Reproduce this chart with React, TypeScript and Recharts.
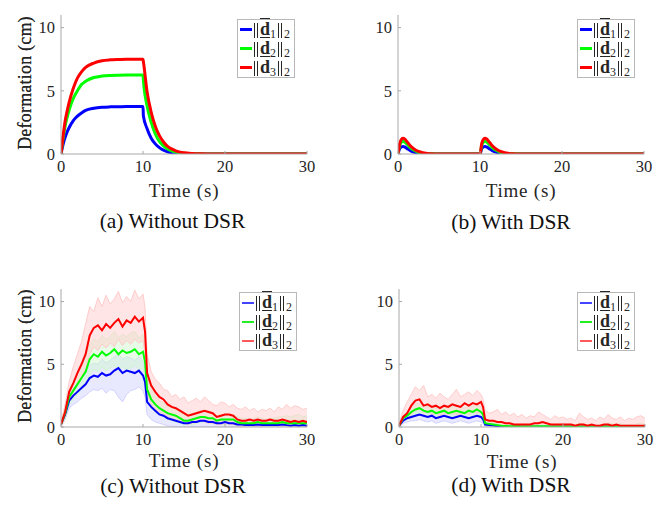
import React from "react";
import { ComposedChart, Line, Area, XAxis, YAxis, Legend } from "recharts";

// ---- (a) without DSR, simulated ----
const TIME_A = [0, 0.25, 0.5, 0.75, 1, 1.5, 2, 2.5, 3, 4, 5, 6, 7, 8, 9, 10, 10.05, 10.5, 11, 11.5, 12, 12.5, 13, 13.5, 14, 15, 16, 17, 18, 20, 25, 30];
const A_D1 = [0, 0.75, 1.3, 1.75, 2.1, 2.65, 3.0, 3.25, 3.45, 3.62, 3.7, 3.73, 3.74, 3.75, 3.75, 3.75, 3.0, 2.0, 1.25, 0.8, 0.5, 0.3, 0.18, 0.1, 0.06, 0.02, 0.01, 0, 0, 0, 0, 0];
const A_D2 = [0, 1.2, 2.2, 2.9, 3.5, 4.4, 5.0, 5.5, 5.75, 6.05, 6.17, 6.22, 6.24, 6.25, 6.25, 6.25, 5.8, 3.8, 2.5, 1.6, 1.0, 0.65, 0.4, 0.25, 0.15, 0.06, 0.02, 0.01, 0, 0, 0, 0];
const A_D3 = [0, 1.4, 2.6, 3.4, 4.1, 5.2, 6.0, 6.5, 6.85, 7.2, 7.38, 7.45, 7.48, 7.5, 7.5, 7.5, 7.3, 4.9, 3.3, 2.2, 1.45, 0.95, 0.6, 0.4, 0.25, 0.1, 0.04, 0.015, 0.005, 0, 0, 0];

// ---- (b) with DSR, simulated ----
const TIME_B = [0, 0.2, 0.4, 0.6, 0.8, 1, 1.25, 1.5, 2, 2.5, 3, 3.5, 4, 5, 10, 10.2, 10.4, 10.6, 10.8, 11, 11.25, 11.5, 12, 12.5, 13, 13.5, 14, 15, 20, 30];
const B_D1 = [0, 0.4, 0.56, 0.6, 0.57, 0.48, 0.37, 0.27, 0.13, 0.06, 0.03, 0.01, 0, 0, 0, 0.4, 0.56, 0.6, 0.57, 0.48, 0.37, 0.27, 0.13, 0.06, 0.03, 0.01, 0, 0, 0, 0];
const B_D2 = [0, 0.65, 0.92, 1.0, 0.95, 0.83, 0.67, 0.5, 0.28, 0.14, 0.07, 0.03, 0.01, 0, 0, 0.65, 0.92, 1.0, 0.95, 0.83, 0.67, 0.5, 0.28, 0.14, 0.07, 0.03, 0.01, 0, 0, 0];
const B_D3 = [0, 0.8, 1.15, 1.25, 1.2, 1.05, 0.85, 0.65, 0.38, 0.2, 0.1, 0.05, 0.02, 0, 0, 0.8, 1.15, 1.25, 1.2, 1.05, 0.85, 0.65, 0.38, 0.2, 0.1, 0.05, 0.02, 0, 0, 0];

// ---- (c), (d) experiments: shared time grid ----
const TIME_N = [
  0, 0.5, 1, 1.5, 2, 2.5, 3, 3.5, 4, 4.5,
  5, 5.5, 6, 6.5, 7, 7.5, 8, 8.5, 9, 9.5,
  10, 10.25, 10.5, 11, 11.5, 12, 12.5, 13, 13.5, 14,
  14.5, 15, 15.5, 16, 16.5, 17, 17.5, 18, 18.5, 19,
  19.5, 20, 20.5, 21, 21.5, 22, 22.5, 23, 23.5, 24,
  24.5, 25, 25.5, 26, 26.5, 27, 27.5, 28, 28.5, 29,
  29.5, 30,
];

// (c) without DSR: mean lines
const C_D1 = [
  0.2, 1.0, 2.1, 2.5, 2.8, 3.1, 3.4, 3.9, 4.1, 4.0,
  4.3, 4.1, 4.2, 4.5, 4.7, 4.3, 4.5, 4.4, 4.3, 4.5,
  4.1, 3.6, 2.0, 1.6, 1.3, 1.0, 0.9, 0.7, 0.6, 0.5,
  0.4, 0.3, 0.3, 0.4, 0.4, 0.5, 0.5, 0.4, 0.4, 0.3,
  0.3, 0.4, 0.3, 0.3, 0.2, 0.2, 0.15, 0.15, 0.15, 0.2,
  0.15, 0.15, 0.15, 0.15, 0.15, 0.2, 0.15, 0.1, 0.15, 0.1,
  0.15, 0.1,
];
const C_D2 = [
  0.2, 1.1, 2.4, 2.9, 3.4, 3.9, 4.4, 5.4, 5.8, 5.6,
  6.0, 5.7, 5.9, 6.2, 5.8, 6.1, 5.9, 6.0, 6.2, 5.8,
  6.0, 5.2, 3.0, 2.2, 1.8, 1.5, 1.3, 1.1, 1.0, 0.9,
  0.7, 0.5, 0.5, 0.6, 0.7, 0.8, 0.8, 0.7, 0.7, 0.5,
  0.6, 0.6, 0.6, 0.6, 0.4, 0.3, 0.3, 0.3, 0.3, 0.4,
  0.3, 0.3, 0.3, 0.3, 0.3, 0.4, 0.3, 0.3, 0.3, 0.3,
  0.3, 0.3,
];
const C_D3 = [
  0.2, 1.2, 2.8, 3.5, 4.3, 5.0, 5.8, 7.3, 7.9, 8.1,
  7.7, 8.2, 7.9, 8.3, 8.6, 8.0, 8.5, 8.3, 8.8, 8.4,
  8.7, 7.6, 4.3, 3.3, 2.8, 2.4, 2.2, 1.8, 1.6, 1.5,
  1.3, 1.1, 0.9, 1.0, 1.1, 1.2, 1.3, 1.2, 1.1, 0.8,
  0.9, 1.0, 1.0, 0.9, 0.6, 0.5, 0.5, 0.6, 0.5, 0.6,
  0.5, 0.5, 0.6, 0.5, 0.5, 0.6, 0.5, 0.4, 0.5, 0.4,
  0.5, 0.4,
];
// (c) spread of the single trials
const C_D1_LO = [
  0, 0.6, 1.5, 1.8, 2.0, 2.3, 2.5, 2.8, 3.0, 2.9,
  3.1, 2.7, 3.0, 2.9, 2.4, 2.0, 2.6, 2.9, 3.0, 3.2,
  2.9, 2.4, 1.0, 0.6, 0.4, 0.3, 0.2, 0.1, 0.05, 0.05,
  0, 0, 0, 0.05, 0, 0.05, 0.05, 0, 0, 0,
  0, 0, 0, 0, 0, 0, 0, 0, 0, 0,
  0, 0, 0, 0, 0, 0, 0, 0, 0, 0,
  0, 0,
];
const C_D1_HI = [
  0.3, 1.3, 2.6, 3.1, 3.5, 3.9, 4.3, 4.9, 5.1, 5.0,
  5.4, 5.1, 5.3, 5.6, 5.8, 5.4, 5.6, 5.5, 5.3, 5.6,
  5.2, 4.5, 2.7, 2.2, 1.8, 1.5, 1.3, 1.1, 1.0, 0.9,
  0.7, 0.6, 0.6, 0.7, 0.7, 0.8, 0.8, 0.7, 0.7, 0.6,
  0.6, 0.7, 0.6, 0.6, 0.5, 0.4, 0.4, 0.4, 0.4, 0.5,
  0.4, 0.4, 0.4, 0.4, 0.4, 0.5, 0.4, 0.3, 0.4, 0.3,
  0.4, 0.3,
];
const C_D2_LO = [
  0, 0.7, 1.8, 2.2, 2.6, 3.0, 3.4, 4.2, 4.6, 4.4,
  4.8, 4.5, 4.7, 4.9, 4.5, 4.8, 4.6, 4.7, 4.9, 4.6,
  4.7, 4.0, 2.2, 1.5, 1.2, 1.0, 0.8, 0.6, 0.5, 0.4,
  0.3, 0.2, 0.2, 0.2, 0.3, 0.4, 0.4, 0.3, 0.3, 0.2,
  0.2, 0.2, 0.2, 0.2, 0.1, 0.1, 0.05, 0.1, 0.05, 0.1,
  0.1, 0.05, 0.1, 0.05, 0.1, 0.1, 0.05, 0.1, 0.05, 0.1,
  0.05, 0.1,
];
const C_D2_HI = [
  0.3, 1.5, 3.0, 3.6, 4.3, 4.9, 5.6, 6.6, 7.0, 6.8,
  7.3, 7.0, 7.2, 7.6, 7.1, 7.4, 7.2, 7.5, 7.6, 7.1,
  7.4, 6.4, 3.9, 3.0, 2.5, 2.1, 1.9, 1.7, 1.5, 1.4,
  1.2, 1.0, 1.0, 1.1, 1.2, 1.3, 1.3, 1.2, 1.1, 0.9,
  1.0, 1.0, 1.0, 1.0, 0.8, 0.7, 0.7, 0.6, 0.7, 0.8,
  0.7, 0.6, 0.7, 0.7, 0.8, 0.8, 0.9, 0.8, 0.9, 1.0,
  0.8, 0.9,
];
const C_D3_LO = [
  0, 0.8, 2.2, 2.8, 3.4, 4.0, 4.6, 5.8, 6.4, 6.1,
  6.6, 6.3, 6.7, 6.4, 7.0, 6.5, 6.9, 6.6, 7.0, 6.7,
  6.9, 5.8, 2.6, 1.8, 1.4, 1.2, 1.0, 0.8, 0.6, 0.5,
  0.4, 0.3, 0.2, 0.3, 0.4, 0.5, 0.4, 0.3, 0.3, 0.2,
  0.2, 0.3, 0.2, 0.2, 0.1, 0.1, 0.05, 0.1, 0.05, 0.1,
  0.05, 0.1, 0.1, 0.05, 0.1, 0.1, 0.05, 0.05, 0.1, 0.05,
  0.1, 0.05,
];
const C_D3_HI = [
  0.4, 1.8, 3.6, 4.8, 5.8, 6.8, 8.2, 9.6, 9.2, 10.3,
  9.6, 10.5, 9.8, 10.2, 10.8, 9.9, 10.4, 10.0, 10.9, 10.2,
  10.6, 9.5, 5.8, 4.4, 3.8, 3.5, 3.0, 2.9, 2.4, 2.6,
  2.2, 2.4, 1.9, 2.1, 2.3, 2.0, 2.4, 2.1, 1.8, 1.7,
  2.0, 1.9, 1.6, 1.8, 1.5, 1.4, 1.6, 1.3, 1.5, 1.2,
  1.4, 1.3, 1.5, 1.2, 1.6, 1.4, 1.8, 1.5, 1.7, 1.6,
  1.4, 1.5,
];

// (d) with DSR: mean lines
const D_D1 = [
  0.1, 0.5, 0.7, 0.8, 0.9, 1.0, 0.9, 0.8, 0.9, 0.7,
  0.8, 0.9, 0.8, 0.7, 0.8, 0.9, 0.8, 0.7, 0.8, 0.9,
  0.8, 0.6, 0.2, 0.15, 0.12, 0.08, 0.05, 0.03, 0.02, 0.02,
  0.02, 0.02, 0.02, 0.02, 0.02, 0.02, 0.02, 0.02, 0.02, 0.02,
  0.02, 0.02, 0.02, 0.02, 0.02, 0.02, 0.02, 0.02, 0.02, 0.02,
  0.02, 0.02, 0.02, 0.02, 0.02, 0.02, 0.02, 0.02, 0.02, 0.02,
  0.02, 0.02,
];
const D_D2 = [
  0.1, 0.7, 0.9, 1.2, 1.4, 1.5, 1.3, 1.2, 1.3, 1.1,
  1.2, 1.3, 1.1, 1.2, 1.3, 1.2, 1.1, 1.3, 1.2, 1.4,
  1.2, 1.0, 0.3, 0.25, 0.2, 0.15, 0.1, 0.08, 0.06, 0.05,
  0.05, 0.04, 0.05, 0.04, 0.05, 0.05, 0.06, 0.05, 0.04, 0.04,
  0.04, 0.04, 0.04, 0.04, 0.03, 0.04, 0.04, 0.03, 0.04, 0.03,
  0.03, 0.04, 0.04, 0.03, 0.04, 0.03, 0.03, 0.03, 0.03, 0.03,
  0.03, 0.03,
];
const D_D3 = [
  0.1, 0.8, 1.1, 1.7, 2.1, 2.2, 1.7, 1.8, 1.6, 1.7,
  1.5, 1.7, 1.6, 1.8, 1.7, 1.6, 1.9, 1.7, 1.9, 1.8,
  2.0, 1.6, 0.6, 0.5, 0.5, 0.4, 0.4, 0.3, 0.3, 0.2,
  0.2, 0.2, 0.2, 0.2, 0.3, 0.3, 0.4, 0.3, 0.2, 0.2,
  0.2, 0.2, 0.2, 0.2, 0.1, 0.2, 0.2, 0.1, 0.2, 0.1,
  0.1, 0.2, 0.2, 0.1, 0.2, 0.1, 0.1, 0.1, 0.1, 0.1,
  0.1, 0.1,
];
// (d) spread of the single trials
const D_D1_LO = [
  0, 0.3, 0.4, 0.5, 0.5, 0.6, 0.5, 0.4, 0.5, 0.3,
  0.4, 0.5, 0.4, 0.3, 0.4, 0.5, 0.4, 0.3, 0.4, 0.5,
  0.4, 0.3, 0.05, 0, 0, 0, 0, 0, 0, 0,
  0, 0, 0, 0, 0, 0, 0, 0, 0, 0,
  0, 0, 0, 0, 0, 0, 0, 0, 0, 0,
  0, 0, 0, 0, 0, 0, 0, 0, 0, 0,
  0, 0,
];
const D_D1_HI = [
  0.1, 0.7, 0.9, 1.1, 1.2, 1.3, 1.2, 1.1, 1.2, 1.0,
  1.1, 1.2, 1.1, 1.0, 1.1, 1.2, 1.1, 1.0, 1.1, 1.2,
  1.1, 0.9, 0.35, 0.3, 0.25, 0.2, 0.15, 0.1, 0.08, 0.08,
  0.08, 0.06, 0.08, 0.06, 0.08, 0.08, 0.1, 0.08, 0.06, 0.06,
  0.06, 0.06, 0.06, 0.06, 0.05, 0.06, 0.06, 0.05, 0.06, 0.05,
  0.05, 0.06, 0.06, 0.05, 0.06, 0.05, 0.05, 0.05, 0.05, 0.05,
  0.05, 0.05,
];
const D_D2_LO = [
  0, 0.5, 0.6, 0.8, 1.0, 1.1, 0.9, 0.8, 0.9, 0.7,
  0.8, 0.9, 0.7, 0.8, 0.9, 0.8, 0.7, 0.9, 0.8, 1.0,
  0.8, 0.7, 0.1, 0.08, 0.05, 0.02, 0.02, 0, 0, 0,
  0, 0, 0, 0, 0, 0, 0, 0, 0, 0,
  0, 0, 0, 0, 0, 0, 0, 0, 0, 0,
  0, 0, 0, 0, 0, 0, 0, 0, 0, 0,
  0, 0,
];
const D_D2_HI = [
  0.1, 0.9, 1.2, 1.6, 1.8, 1.9, 1.7, 1.6, 1.7, 1.5,
  1.6, 1.7, 1.5, 1.6, 1.7, 1.6, 1.5, 1.7, 1.6, 1.8,
  1.6, 1.3, 0.5, 0.4, 0.35, 0.3, 0.25, 0.2, 0.2, 0.2,
  0.15, 0.15, 0.2, 0.2, 0.25, 0.3, 0.3, 0.25, 0.2, 0.2,
  0.2, 0.25, 0.2, 0.2, 0.15, 0.3, 0.25, 0.2, 0.2, 0.15,
  0.2, 0.2, 0.3, 0.25, 0.2, 0.25, 0.2, 0.2, 0.2, 0.25,
  0.3, 0.2,
];
const D_D3_LO = [
  0, 0.5, 0.7, 1.0, 1.3, 1.4, 1.1, 1.2, 1.0, 1.1,
  0.9, 1.1, 1.0, 1.1, 1.0, 1.0, 1.2, 1.0, 1.2, 1.1,
  1.2, 1.0, 0.2, 0.15, 0.1, 0.1, 0.1, 0.05, 0.05, 0.05,
  0, 0, 0, 0, 0, 0, 0, 0, 0, 0,
  0, 0, 0, 0, 0, 0, 0, 0, 0, 0,
  0, 0, 0, 0, 0, 0, 0, 0, 0, 0,
  0, 0,
];
const D_D3_HI = [
  0.2, 1.3, 2.0, 2.6, 3.2, 2.9, 3.3, 2.4, 2.6, 2.3,
  2.7, 2.4, 2.2, 2.6, 3.0, 2.4, 2.6, 2.8, 2.5, 2.9,
  2.6, 2.2, 1.3, 1.1, 1.2, 1.4, 1.0, 1.2, 0.9, 1.1,
  0.8, 1.0, 0.7, 0.9, 0.8, 1.2, 1.0, 0.8, 0.6, 0.9,
  0.7, 0.8, 0.6, 0.7, 0.5, 1.1, 0.8, 0.6, 0.7, 0.5,
  0.8, 0.6, 1.0, 0.7, 0.6, 0.8, 0.5, 0.7, 0.6, 0.8,
  0.9, 0.7,
];

const X_TICKS = [0, 10, 20, 30];
const Y_TICKS = [0, 5, 10];

const SERIES = [
  { key: "d1", band: "b1", idx: "1", color: "#0000ff", pale: "#d2d2ff", soft: "#4444ff" },
  { key: "d2", band: "b2", idx: "2", color: "#00ff00", pale: "#cff8cf", soft: "#22ee22" },
  { key: "d3", band: "b3", idx: "3", color: "#ff0000", pale: "#ffcccc", soft: "#ff5a5a" },
];

const dataA = TIME_A.map((t, i) => ({ t, d1: A_D1[i], d2: A_D2[i], d3: A_D3[i] }));
const dataB = TIME_B.map((t, i) => ({ t, d1: B_D1[i], d2: B_D2[i], d3: B_D3[i] }));
const dataC = TIME_N.map((t, i) => ({
  t,
  d1: C_D1[i], d2: C_D2[i], d3: C_D3[i],
  b1: [C_D1_LO[i], C_D1_HI[i]], b2: [C_D2_LO[i], C_D2_HI[i]], b3: [C_D3_LO[i], C_D3_HI[i]],
}));
const dataD = TIME_N.map((t, i) => ({
  t,
  d1: D_D1[i], d2: D_D2[i], d3: D_D3[i],
  b1: [D_D1_LO[i], D_D1_HI[i]], b2: [D_D2_LO[i], D_D2_HI[i]], b3: [D_D3_LO[i], D_D3_HI[i]],
}));

const FONT = "'Liberation Serif', 'Times New Roman', serif";
const INK = "#262626";
const AXIS = "#a8a8a8";
const W = 333;
const H = 210;
const Y_W = 40;
const X_H = 24;

function Norm({ idx }: { idx: string }) {
  const bar = { display: "inline-block", width: 1, height: 15, background: INK, marginRight: 2, verticalAlign: -3 };
  const sub = { fontSize: 12, verticalAlign: -3 };
  return (
    <span>
      <span style={bar} />
      <span style={{ ...bar, marginRight: 2 }} />
      <span style={{ fontWeight: "bold", textDecoration: "overline" }}>d</span>
      <sub style={sub}>{idx}</sub>
      <span style={{ ...bar, marginLeft: 2 }} />
      <span style={bar} />
      <sub style={sub}>2</sub>
    </span>
  );
}

function NormLegend({ thin }: { thin: boolean }) {
  return (
    <div
      style={{
        border: "1px solid #b8b8b8",
        background: "#fff",
        padding: "0 4px 0 2px",
        fontFamily: FONT,
        color: INK,
        lineHeight: 1,
      }}
    >
      {SERIES.map((s) => (
        <div key={s.key} style={{ display: "flex", alignItems: "center", height: 19, fontSize: 18, whiteSpace: "nowrap" }}>
          <span
            style={{
              display: "inline-block",
              width: 12,
              height: thin ? 2 : 3,
              background: thin ? s.soft : s.color,
              marginRight: 2,
            }}
          />
          <Norm idx={s.idx} />
        </div>
      ))}
    </div>
  );
}

type PanelProps = {
  x0: number;
  y0: number;
  plot: { l: number; t: number; r: number; b: number };
  data: Record<string, unknown>[];
  noisy: boolean;
  timeBaseline: number;
  legend: [number, number];
};

function Panel({ x0, y0, plot, data, noisy, timeBaseline, legend }: PanelProps) {
  const margin = {
    left: plot.l - x0 - Y_W,
    top: plot.t - y0,
    right: x0 + W - plot.r,
    bottom: y0 + H - plot.b - X_H,
  };
  const tickStyle = { fontFamily: FONT, fontSize: 16.5, fill: INK };
  return (
    <div style={{ position: "absolute", left: x0, top: y0, width: W, height: H }}>
      <ComposedChart width={W} height={H} data={data} margin={margin}>
        <XAxis
          dataKey="t"
          type="number"
          domain={[0, 30]}
          ticks={X_TICKS}
          interval={0}
          allowDataOverflow
          height={X_H}
          stroke={AXIS}
          tickSize={-3}
          tickMargin={9}
          tick={tickStyle}
          label={{
            value: "Time (s)",
            position: "bottom",
            offset: timeBaseline - 13.5 - plot.b - X_H,
            style: { fontFamily: FONT, fontSize: 19, fill: INK, letterSpacing: 0.8 },
          }}
        />
        <YAxis
          type="number"
          domain={[0, 11]}
          ticks={Y_TICKS}
          interval={0}
          allowDataOverflow
          width={Y_W}
          stroke={AXIS}
          tickSize={-3}
          tickMargin={9}
          tick={tickStyle}
        />
        {noisy &&
          SERIES.map((s) => (
            <Area
              key={s.band}
              dataKey={s.band}
              type="linear"
              stroke={s.pale}
              strokeWidth={1}
              fill={s.pale}
              fillOpacity={0.5}
              dot={false}
              activeDot={false}
              isAnimationActive={false}
            />
          ))}
        {SERIES.map((s) => (
          <Line
            key={s.key}
            dataKey={s.key}
            type={noisy ? "linear" : "monotone"}
            stroke={s.color}
            strokeWidth={noisy ? 2 : 3}
            dot={false}
            activeDot={false}
            isAnimationActive={false}
          />
        ))}
        <Legend
          layout="horizontal"
          verticalAlign="middle"
          align="center"
          wrapperStyle={{ left: legend[0] - x0, top: legend[1] - y0, width: "auto", height: "auto" }}
          content={() => <NormLegend thin={noisy} />}
        />
      </ComposedChart>
      {/* y-axis title, rotated with writing-mode so its box stays vertical */}
      <div
        style={{
          position: "absolute",
          left: 25 - x0,
          top: (plot.t + plot.b) / 2 - 2 - y0,
          transform: "translate(-50%, -50%) rotate(180deg)",
          writingMode: "vertical-rl",
          fontFamily: FONT,
          fontSize: 18,
          lineHeight: "20px",
          color: INK,
          whiteSpace: "nowrap",
          letterSpacing: 0.2,
        }}
      >
        Deformation (cm)
      </div>
    </div>
  );
}

function Caption({ text, cx, baseline }: { text: string; cx: number; baseline: number }) {
  return (
    <div
      style={{
        position: "absolute",
        left: cx - 120,
        width: 240,
        top: baseline - 18.3,
        textAlign: "center",
        fontFamily: FONT,
        fontSize: 21.5,
        lineHeight: "22px",
        color: "#111",
        whiteSpace: "nowrap",
      }}
    >
      {text}
    </div>
  );
}

export default function App() {
  return (
    <div style={{ position: "absolute", left: 0, top: 0, width: 667, height: 508, background: "#fff", overflow: "hidden" }}>
      <Panel x0={0} y0={0} plot={{ l: 61, t: 15, r: 307, b: 154 }} data={dataA} noisy={false} timeBaseline={197} legend={[237, 19]} />
      <Panel x0={334} y0={0} plot={{ l: 398, t: 15, r: 644, b: 154 }} data={dataB} noisy={false} timeBaseline={197} legend={[577, 19]} />
      <Panel x0={0} y0={270} plot={{ l: 61, t: 289, r: 307, b: 427 }} data={dataC} noisy timeBaseline={467} legend={[239, 292]} />
      <Panel x0={334} y0={270} plot={{ l: 399, t: 289, r: 645, b: 427 }} data={dataD} noisy timeBaseline={468} legend={[577, 292]} />
      <Caption text="(a) Without DSR" cx={172.5} baseline={228} />
      <Caption text="(b) With DSR" cx={511} baseline={229} />
      <Caption text="(c) Without DSR" cx={173} baseline={493} />
      <Caption text="(d) With DSR" cx={511} baseline={492} />
    </div>
  );
}
